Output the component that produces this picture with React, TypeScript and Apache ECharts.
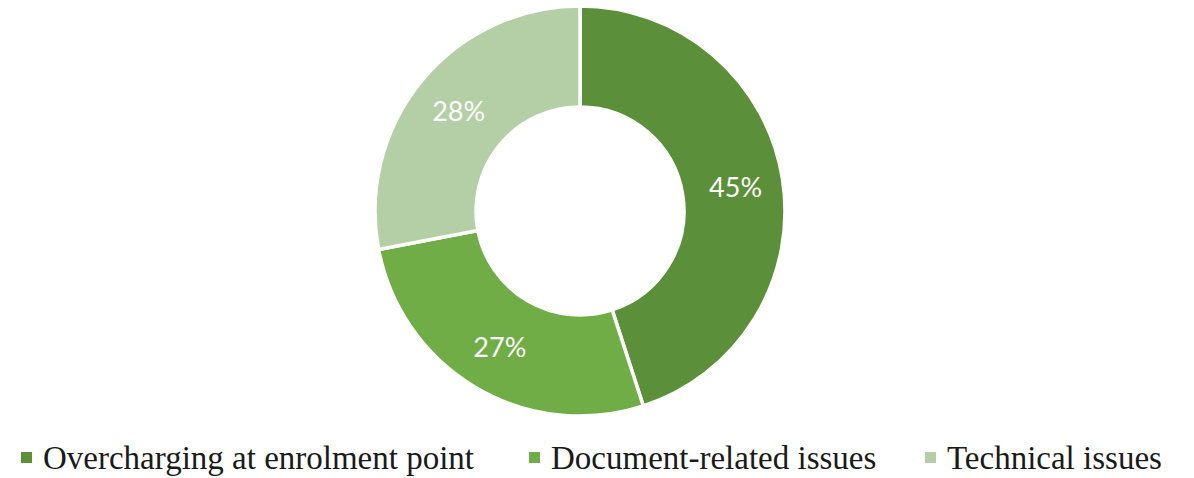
import React, { useEffect, useRef } from "react";
import * as echarts from "echarts";

const categories = ["Overcharging at enrolment point", "Document-related issues", "Technical issues"];
const values = [45, 27, 28];
const colors = ["#5B8F3A", "#70AD47", "#B4CFA6"];
const legendLefts = [19, 527, 923];

export default function App() {
  const ref = useRef<HTMLDivElement>(null);
  useEffect(() => {
    if (!ref.current) return;
    const chart = echarts.init(ref.current, undefined, { renderer: "svg" });
    const legends = categories.map((name, i) => ({
      data: [name],
      left: legendLefts[i],
      top: 441,
      padding: 0,
      icon: "rect",
      itemWidth: 13,
      itemHeight: 13,
      itemGap: 0,
      selectedMode: false,
      textStyle: {
        fontFamily: "Liberation Serif",
        fontSize: 33,
        color: "#1a1a1a",
        padding: [0, 0, 0, 5],
      },
    }));
    chart.setOption({
      animation: false,
      color: colors,
      legend: legends,
      series: [
        {
          type: "pie",
          center: [580, 211],
          radius: [104, 205],
          startAngle: 90,
          clockwise: true,
          avoidLabelOverlap: false,
          itemStyle: { borderColor: "#ffffff", borderWidth: 3.5 },
          label: {
            show: true,
            position: "inside",
            formatter: "{c}%",
            color: "#ffffff",
            fontFamily: "Lato",
            fontSize: 27,
          },
          labelLine: { show: false },
          emphasis: { disabled: true },
          data: categories.map((name, i) => ({ name, value: values[i] })),
        },
      ],
    });
    return () => chart.dispose();
  }, []);
  return (
    <div
      ref={ref}
      style={{ position: "absolute", left: 0, top: 0, width: 1194, height: 478, background: "#fff" }}
    />
  );
}
